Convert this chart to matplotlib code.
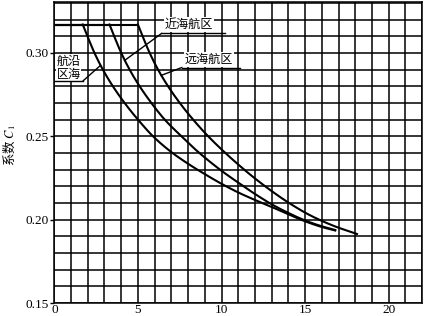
import numpy as np
import matplotlib
matplotlib.use("Agg")
import matplotlib.pyplot as plt

plt.rcParams['font.family'] = ['Liberation Serif', 'Noto Sans CJK SC', 'DejaVu Sans']
plt.rcParams['mathtext.fontset'] = 'stix'

# ---- data ----
cap = 0.317  # flat upper limit of C1

coastal_x = [1.7, 2.4, 2.9, 3.5, 4.2, 5.0, 5.9, 7.0, 8.0, 9.0, 10.0, 11.0, 12.0, 13.0, 14.0, 15.0, 16.0, 16.8]
coastal_c = [0.317, 0.300, 0.290, 0.280, 0.270, 0.260, 0.250, 0.2405, 0.2335, 0.2273, 0.2215, 0.2163, 0.2118, 0.2076, 0.2032, 0.1990, 0.1956, 0.1935]

near_x = [3.3, 4.0, 4.5, 5.1, 5.8, 6.6, 7.6, 8.5, 10.0, 11.0, 12.0, 13.0, 14.0, 15.0, 16.0, 16.8]
near_c = [0.317, 0.300, 0.290, 0.280, 0.270, 0.260, 0.250, 0.2415, 0.2293, 0.2222, 0.2154, 0.2092, 0.2040, 0.1995, 0.1960, 0.1938]

ocean_x = [5.0, 5.7, 6.2, 6.8, 7.5, 8.3, 9.2, 10.7, 11.9, 13.1, 14.1, 15.3, 16.7, 18.1]
ocean_c = [0.317, 0.300, 0.290, 0.280, 0.270, 0.260, 0.250, 0.2357, 0.2255, 0.2164, 0.2096, 0.2026, 0.1963, 0.1914]

x_major = [0, 5, 10, 15, 20]
y_major = [0.15, 0.20, 0.25, 0.30]
y_labels = ['0.15', '0.20', '0.25', '0.30']


def pchip(x, y, xs):
    x = np.asarray(x, float); y = np.asarray(y, float)
    h = np.diff(x); d = np.diff(y) / h
    n = len(x)
    m = np.zeros(n)
    m[0] = d[0]; m[-1] = d[-1]
    for k in range(1, n - 1):
        if d[k - 1] * d[k] <= 0:
            m[k] = 0
        else:
            w1 = 2 * h[k] + h[k - 1]; w2 = h[k] + 2 * h[k - 1]
            m[k] = (w1 + w2) / (w1 / d[k - 1] + w2 / d[k])
    idx = np.clip(np.searchsorted(x, xs) - 1, 0, n - 2)
    t = (xs - x[idx]) / h[idx]
    h00 = 2 * t**3 - 3 * t**2 + 1; h10 = t**3 - 2 * t**2 + t
    h01 = -2 * t**3 + 3 * t**2; h11 = t**3 - t**2
    return h00 * y[idx] + h10 * h[idx] * m[idx] + h01 * y[idx + 1] + h11 * h[idx] * m[idx + 1]


fig = plt.figure(figsize=(4.26, 3.16), dpi=100)
ax = fig.add_axes([0.1275, 0.041, 0.8635, 0.9527])
ax.set_xlim(0, 22)
ax.set_ylim(0.15, 0.3305)

ax.set_xticks(x_major)
ax.set_xticks(np.arange(0, 23, 1), minor=True)
ax.set_yticks(y_major)
ax.set_yticklabels(y_labels)
ax.set_yticks(np.arange(0.15, 0.3351, 0.01), minor=True)
ax.grid(True, which='both', color='black', linewidth=1.1)
ax.set_axisbelow(True)
ax.tick_params(which='minor', length=0)
ax.tick_params(axis='y', which='major', length=3, width=1, direction='out', labelsize=9.5, pad=1)
ax.tick_params(axis='x', which='major', length=0, labelsize=9.5, pad=0.5)
for s in ax.spines.values():
    s.set_linewidth(1.1)

lw = 1.5
for xs_, cs_ in [(coastal_x, coastal_c), (near_x, near_c), (ocean_x, ocean_c)]:
    ax.plot([0, xs_[0]], [cap, cap], color='black', lw=lw, solid_capstyle='butt')
    xx = np.linspace(xs_[0], xs_[-1], 300)
    ax.plot(xx, pchip(xs_, cs_, xx), color='black', lw=lw)


def x_on(xs_, cs_, c):
    xx = np.linspace(xs_[0], xs_[-1], 2000)
    yy = pchip(xs_, cs_, xx)
    return xx[np.argmin(np.abs(yy - c))]

cjk = ['Noto Sans CJK SC', 'DejaVu Sans']
box = dict(facecolor='white', edgecolor='none', pad=0.6)
llw = 1.0

# 近海航区
ax.text(8.05, 0.3172, '近海航区', family=cjk, fontsize=8.7, ha='center', va='center', bbox=box, zorder=5)
ax.plot([6.42, 10.2], [0.3117, 0.3117], color='black', lw=llw, zorder=6)
c_end = 0.2955
ax.plot([6.42, x_on(near_x, near_c, c_end)], [0.3117, c_end], color='black', lw=llw, zorder=6)

# 远海航区
ax.text(9.25, 0.2960, '远海航区', family=cjk, fontsize=8.7, ha='center', va='center', bbox=box, zorder=5)
ax.plot([7.62, 11.1], [0.2912, 0.2912], color='black', lw=llw, zorder=6)
c_end = 0.2865
ax.plot([7.62, x_on(ocean_x, ocean_c, c_end)], [0.2912, c_end], color='black', lw=llw, zorder=6)

# 沿海航区 (written 航沿 / 区海)
ax.text(0.85, 0.2908, '航沿\n区海', family=cjk, fontsize=8.7, ha='center', va='center',
        linespacing=1.05, bbox=box, zorder=5)
ax.plot([0, 1.73], [0.2833, 0.2833], color='black', lw=llw, zorder=6)
c_end = 0.2925
ax.plot([1.73, x_on(coastal_x, coastal_c, c_end)], [0.2833, c_end], color='black', lw=llw, zorder=6)

fig.text(0.022, 0.54, '系数 $C_1$', family=cjk, fontsize=9, rotation=90, ha='center', va='center')

fig.savefig('out.png', dpi=100)
